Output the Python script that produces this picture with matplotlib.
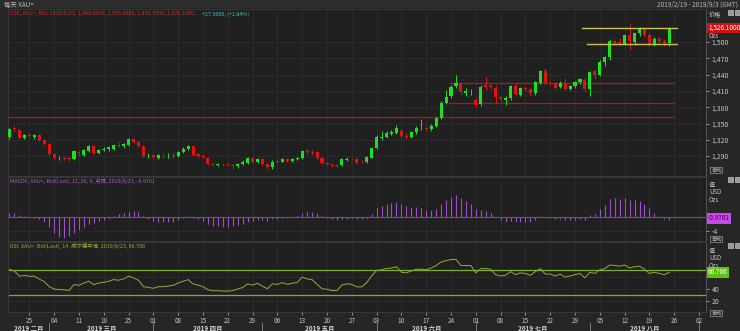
import numpy as np
import pandas as pd
import matplotlib
matplotlib.use("Agg")
import matplotlib.pyplot as plt
from matplotlib.patches import Rectangle
from matplotlib.transforms import blended_transform_factory

plt.rcParams['font.family'] = ['Noto Sans CJK SC', 'DejaVu Sans']

# ---------------- data ----------------
dates = pd.bdate_range("2019-02-19", "2019-08-23")
axis_end = pd.Timestamp("2019-09-03")

opens = [1325, 1342, 1338, 1323, 1328, 1326, 1328, 1320, 1313, 1293,
         1286, 1287, 1286, 1284, 1298, 1292, 1299, 1309, 1295, 1301,
         1303, 1304, 1311, 1308, 1311, 1321, 1316, 1309, 1290, 1292,
         1287, 1291, 1290, 1292, 1290, 1297, 1303, 1308, 1293, 1291,
         1287, 1275, 1274, 1275, 1276, 1274, 1271, 1275, 1277, 1286,
         1280, 1284, 1275, 1270, 1281, 1280, 1285, 1281, 1284, 1286,
         1299, 1297, 1297, 1286, 1277, 1276, 1274, 1273, 1283, 1285,
         1285, 1280, 1279, 1287, 1305, 1324, 1325, 1331, 1333, 1337,
         1327, 1326, 1334, 1341, 1341, 1339, 1345, 1360, 1388, 1400,
         1419, 1424, 1407, 1409, 1394, 1385, 1420, 1420, 1416, 1399,
         1394, 1397, 1419, 1403, 1415, 1414, 1406, 1425, 1446, 1425,
         1424, 1417, 1425, 1414, 1419, 1426, 1430, 1413, 1446, 1440,
         1464, 1472, 1501, 1500, 1497, 1512, 1500, 1516, 1524, 1513,
         1496, 1506, 1502, 1498]
highs = [1342, 1346, 1340, 1331, 1333, 1330, 1331, 1322, 1315, 1295,
         1290, 1289, 1288, 1301, 1300, 1303, 1311, 1310, 1304, 1306,
         1308, 1313, 1316, 1315, 1324, 1323, 1318, 1311, 1296, 1294,
         1294, 1294, 1296, 1295, 1300, 1306, 1310, 1309, 1296, 1293,
         1289, 1278, 1277, 1276, 1278, 1276, 1278, 1282, 1288, 1288,
         1286, 1287, 1277, 1282, 1285, 1287, 1287, 1287, 1289, 1302,
         1303, 1301, 1299, 1288, 1280, 1278, 1276, 1286, 1288, 1287,
         1287, 1283, 1290, 1307, 1328, 1336, 1336, 1338, 1348, 1339,
         1332, 1337, 1345, 1358, 1344, 1349, 1362, 1392, 1411, 1420,
         1439, 1427, 1415, 1414, 1397, 1420, 1437, 1422, 1420, 1401,
         1400, 1421, 1425, 1418, 1418, 1416, 1428, 1448, 1452, 1428,
         1426, 1428, 1433, 1421, 1428, 1433, 1433, 1447, 1449, 1467,
         1475, 1505, 1504, 1507, 1515, 1534, 1519, 1528, 1526, 1516,
         1509, 1509, 1506, 1527]
lows = [1322, 1337, 1321, 1321, 1324, 1322, 1318, 1311, 1291, 1284,
        1283, 1283, 1281, 1282, 1290, 1290, 1297, 1294, 1293, 1299,
        1300, 1302, 1307, 1305, 1309, 1314, 1306, 1288, 1287, 1285,
        1285, 1286, 1286, 1287, 1288, 1295, 1301, 1290, 1289, 1286,
        1273, 1271, 1271, 1274, 1272, 1266, 1269, 1273, 1275, 1278,
        1278, 1273, 1267, 1267, 1278, 1279, 1279, 1279, 1282, 1284,
        1294, 1292, 1284, 1275, 1273, 1270, 1270, 1271, 1281, 1282,
        1276, 1277, 1278, 1286, 1303, 1320, 1323, 1328, 1331, 1323,
        1322, 1324, 1331, 1338, 1337, 1336, 1343, 1358, 1386, 1397,
        1415, 1405, 1400, 1402, 1381, 1382, 1412, 1413, 1387, 1391,
        1384, 1394, 1400, 1401, 1410, 1401, 1403, 1422, 1422, 1420,
        1413, 1415, 1411, 1411, 1416, 1423, 1410, 1400, 1432, 1437,
        1455, 1466, 1494, 1494, 1495, 1485, 1495, 1511, 1510, 1493,
        1492, 1498, 1492, 1492]
closes = [1340, 1339, 1324, 1328, 1327, 1328, 1320, 1313, 1293, 1287,
          1287, 1285, 1285, 1299, 1296, 1301, 1309, 1296, 1302, 1304,
          1306, 1311, 1309, 1312, 1322, 1316, 1309, 1290, 1291, 1288,
          1292, 1290, 1291, 1291, 1298, 1304, 1308, 1292, 1291, 1288,
          1275, 1273, 1275, 1275, 1274, 1271, 1275, 1279, 1286, 1280,
          1284, 1276, 1270, 1280, 1280, 1285, 1281, 1284, 1286, 1300,
          1297, 1296, 1286, 1277, 1276, 1273, 1272, 1284, 1285, 1284,
          1278, 1279, 1288, 1305, 1325, 1326, 1332, 1334, 1341, 1327,
          1326, 1334, 1342, 1341, 1339, 1346, 1360, 1388, 1399, 1418,
          1424, 1408, 1409, 1409, 1384, 1418, 1418, 1417, 1399, 1395,
          1397, 1419, 1404, 1415, 1413, 1406, 1426, 1446, 1425, 1424,
          1416, 1425, 1414, 1419, 1426, 1431, 1413, 1445, 1440, 1464,
          1472, 1502, 1499, 1497, 1512, 1502, 1516, 1524, 1513, 1497,
          1506, 1502, 1498, 1526.1]

macd_hist = [1.2, 1.0, 0.6, 0.3, 0.1, -0.2, -0.6, -1.4, -2.8, -4.5,
             -5.8, -6.0, -5.6, -4.6, -3.8, -3.0, -2.0, -1.8, -1.3, -0.8,
             -0.3, 0.3, 0.7, 1.0, 1.5, 1.6, 1.3, 0.2, -0.6, -1.1,
             -1.4, -1.6, -1.6, -1.5, -1.0, -0.4, 0.2, -0.3, -0.7, -1.2,
             -2.0, -2.5, -2.7, -2.8, -2.8, -2.7, -2.4, -2.0, -1.4, -1.2,
             -0.9, -1.0, -1.1, -0.6, -0.5, -0.2, -0.2, 0.0, 0.2, 1.0,
             1.3, 1.4, 1.0, 0.3, -0.2, -0.7, -1.0, -0.7, -0.5, -0.4,
             -0.6, -0.6, -0.2, 0.8, 2.4, 3.2, 3.8, 4.0, 4.3, 3.6,
             3.0, 2.8, 2.8, 2.5, 2.0, 1.9, 2.3, 3.8, 4.8, 5.8,
             6.2, 5.4, 4.6, 3.8, 2.2, 2.0, 1.6, 1.1, 0.0, -0.9,
             -1.5, -1.2, -1.5, -1.4, -1.4, -1.6, -0.9, 0.3, 0.0, -0.2,
             -0.6, -0.5, -0.9, -1.0, -0.8, -0.5, -1.0, 0.4, 0.8, 2.2,
             3.4, 5.0, 5.4, 5.2, 5.4, 4.9, 4.8, 4.6, 3.8, 2.4,
             1.2, 0.2, -0.6, -0.9701]

rsi = [71.7, 69, 60.5, 61.7, 60.5, 60.5, 55.8, 51.7, 43.3, 39.5,
       38.3, 38.3, 37, 46.7, 45.5, 49.4, 52.2, 46.7, 49.4, 50.5,
       52.2, 55, 53.9, 56, 60.5, 57.8, 53.9, 43.3, 42.2, 40.6,
       43.3, 43.3, 44.4, 45.5, 49.4, 52.2, 55, 47.8, 46, 43.3,
       38.3, 36.7, 36.7, 36, 36, 36.7, 39.5, 42, 47.8, 46,
       49, 44, 40, 48, 47, 50, 47, 49, 50, 59,
       56, 55, 47, 40, 39, 37, 37, 46, 48, 47,
       43, 43, 50, 61, 70, 71, 73, 74, 76, 67,
       66, 69, 72, 72, 71, 74, 78, 84, 86, 88,
       88, 78, 78, 78, 66, 73, 73, 72, 63, 61,
       62, 68, 63, 66, 65, 62, 68, 73, 64, 64,
       61, 64, 59, 61, 63, 65, 58, 67, 65, 71,
       73, 79, 78, 77, 79, 74, 76, 77, 72, 65,
       67, 65, 63, 66.706]
rsi_levels = [70, 30]

# drawn support / resistance levels: (price, start date)
red_levels = [(1362, "2019-02-19"), (1388, "2019-06-24"), (1424.5, "2019-06-24")]
yellow_levels = [(1525, "2019-07-31"), (1496, "2019-08-01")]
levels_end = "2019-08-26"

# ---------------- layout ----------------
BG = "#202020"
GRID = "#2d2d2d"
TXT = "#c4c4c4"
UP = "#1fe01f"
DOWN = "#e01212"

W, H = 740, 331
fig = plt.figure(figsize=(W / 100, H / 100), dpi=100, facecolor="#262626")


def px_axes(x0, y0, x1, y1):
    return fig.add_axes([x0 / W, 1 - y1 / H, (x1 - x0) / W, (y1 - y0) / H])


ax_p = px_axes(8, 9, 706, 176)
ax_m = px_axes(8, 177, 706, 241)
ax_r = px_axes(8, 242, 706, 312)

all_days = pd.bdate_range(dates[0], axis_end)
x = np.arange(len(dates))
pos = {d: i for i, d in enumerate(all_days)}
week_idx = [i for i, d in enumerate(all_days) if d.weekday() == 0]
xlim = (-0.3, len(all_days) - 0.6)

for ax in (ax_p, ax_m, ax_r):
    ax.set_facecolor(BG)
    ax.set_xlim(*xlim)
    ax.set_xticks(week_idx)
    ax.grid(True, color=GRID, lw=0.6)
    ax.set_axisbelow(True)
    ax.yaxis.tick_right()
    ax.tick_params(axis="y", labelsize=5, colors=TXT, length=2, pad=2, width=0.5)
    ax.tick_params(axis="x", length=0, labelbottom=False)
    for s in ax.spines.values():
        s.set_color("#3c3c3c")
        s.set_linewidth(0.6)
    ax.spines["right"].set_color("#5a5a5a")

# ---- price panel ----
o = np.array(opens); h = np.array(highs); l = np.array(lows); c = np.array(closes)
col = np.where(c >= o, UP, DOWN)
ax_p.vlines(x, l, h, colors=col, lw=0.7, zorder=3)
body = np.maximum(np.abs(c - o), 0.7)
ax_p.bar(x, body, bottom=np.minimum(o, c), width=0.62, color=col, zorder=4)
ax_p.set_ylim(1253.4, 1560.7)
ax_p.set_yticks(range(1290, 1501, 30))
ax_p.set_yticklabels([f"{v:,}" for v in range(1290, 1501, 30)])

end_i = pos[pd.Timestamp(levels_end)]
for lvl, start in red_levels:
    s = pos[pd.Timestamp(start)] - 0.5 if start != "2019-02-19" else xlim[0]
    ax_p.plot([s, end_i], [lvl, lvl], color="#b3161a", lw=0.9, zorder=2)
for lvl, start in yellow_levels:
    s = pos[pd.Timestamp(start)] - 0.5
    ax_p.plot([s, end_i + 0.5], [lvl, lvl], color="#c9c443", lw=1.0, zorder=5)

ax_p.annotate("1,526.1000", xy=(1.0, closes[-1]), xycoords=("axes fraction", "data"),
              xytext=(1.5, 0), textcoords="offset points", ha="left", va="center",
              fontsize=4.6, color="white", annotation_clip=False,
              bbox=dict(boxstyle="square,pad=0.2", fc="#d01010", ec="none"))

# ---- MACD panel ----
ax_m.vlines(x, 0, macd_hist, colors="#a24fcf", lw=0.8)
ax_m.axhline(0, color="#8a3fb0", lw=0.8)
ax_m.set_ylim(-6.9, 11.4)
ax_m.set_yticks([-4, 0])
ax_m.set_yticklabels(["-4", ""])
ax_m.annotate("-0.9701", xy=(1.0, 0), xycoords=("axes fraction", "data"),
              xytext=(1.5, -1), textcoords="offset points", ha="left", va="center",
              fontsize=4.6, color="#3a0050", annotation_clip=False,
              bbox=dict(boxstyle="square,pad=0.2", fc="#c84ae8", ec="none"))

# ---- RSI panel ----
ax_r.plot(x, rsi, color="#9aa83c", lw=0.7)
for lv in rsi_levels:
    ax_r.axhline(lv, color="#7fb02a", lw=0.9)
ax_r.set_ylim(1.7, 116.7)
ax_r.set_yticks([20, 40, 60])
ax_r.set_yticklabels(["20", "40", ""])
ax_r.annotate("66.706", xy=(1.0, rsi[-1]), xycoords=("axes fraction", "data"),
              xytext=(1.5, 0), textcoords="offset points", ha="left", va="center",
              fontsize=4.6, color="white", annotation_clip=False,
              bbox=dict(boxstyle="square,pad=0.2", fc="#5cc40a", ec="none"))

# date ticks at bottom
ax_r.tick_params(axis="x", labelbottom=True, length=2, width=0.5, pad=1.5,
                 colors=TXT, labelsize=4.6, direction="out")
ax_r.set_xticklabels([all_days[i].strftime("%d") for i in week_idx])

# month labels and separators
cn_months = ["一月", "二月", "三月", "四月", "五月", "六月",
             "七月", "八月", "九月", "十月", "十一月", "十二月"]
month_starts = [i for i, d in enumerate(all_days) if i > 0 and d.month != all_days[i - 1].month]
bounds = [xlim[0]] + month_starts
trans = blended_transform_factory(ax_r.transData, fig.transFigure)
for k, m in enumerate(range(all_days[0].month, all_days[0].month + len(month_starts))):
    ctr = (bounds[k] + bounds[k + 1]) / 2
    ax_r.text(ctr, 1 - 328.5 / H, f"2019 {cn_months[m - 1]}", transform=trans,
              ha="center", va="center", fontsize=4.6, color="#d8d8d8", fontweight="bold")
for ms in month_starts:
    ax_r.plot([ms, ms], [1 - 323 / H, 0], transform=trans, color="#8a8a8a",
              lw=0.6, clip_on=False)

# ---------------- header and side texts ----------------
fig.patches.append(Rectangle((0, 1 - 8 / H), 1, 8 / H, transform=fig.transFigure,
                             fc="#2c2c2c", ec="none", zorder=0))


def ftext(px, py, s, **kw):
    fig.text(px / W, 1 - py / H, s, va="center", **kw)


ftext(4, 4.5, "每天 XAU=", fontsize=4.6, color="#b8b8b8")
ftext(738, 4.5, "2019/2/19 - 2019/9/3 (GMT)", fontsize=4.6, color="#b8b8b8", ha="right")
ftext(10, 14, "CSE, XAU=, Bid, 2019/8/23, 1,498.0000, 1,526.6900, 1,492.7000, 1,526.1000,",
      fontsize=3.9, color="#e02424")
ftext(202, 14, "+27.5000, (+1.84%)", fontsize=3.9, color="#3cc8c8")
ftext(10, 181, "MACDF, XAU=, Bid(Last), 12, 26, 9, 点阵, 2019/8/23, -0.9701",
      fontsize=3.9, color="#b25ad8")
ftext(10, 246, "RSI, XAU=, Bid(Last), 14, 威尔德平滑, 2019/8/23, 66.706",
      fontsize=3.9, color="#9fb040")

ftext(709, 15, "价格", fontsize=4.4, color=TXT)
ftext(709, 35.5, "Ozs", fontsize=4.4, color=TXT)
for y0 in (185, 251):
    ftext(709, y0, "值", fontsize=4.4, color=TXT)
    ftext(709, y0 + 7.5, "USD", fontsize=4.4, color=TXT)
    ftext(709, y0 + 14.5, "Ozs", fontsize=4.4, color=TXT)
for y0 in (170, 239, 313):
    ftext(711, y0, "自动", fontsize=3.8, color=TXT,
          bbox=dict(boxstyle="square,pad=0.15", fc="none", ec="#9a9a9a", lw=0.5))
for y0 in (12, 179, 245):
    for xx in (728, 735):
        fig.patches.append(Rectangle((xx / W, 1 - (y0 + 2.5) / H), 5 / W, 5 / H,
                                     transform=fig.transFigure, fc="#9a9a9a",
                                     ec="#dddddd", lw=0.4, zorder=5))

fig.savefig("out.png", dpi=100, facecolor=fig.get_facecolor())
